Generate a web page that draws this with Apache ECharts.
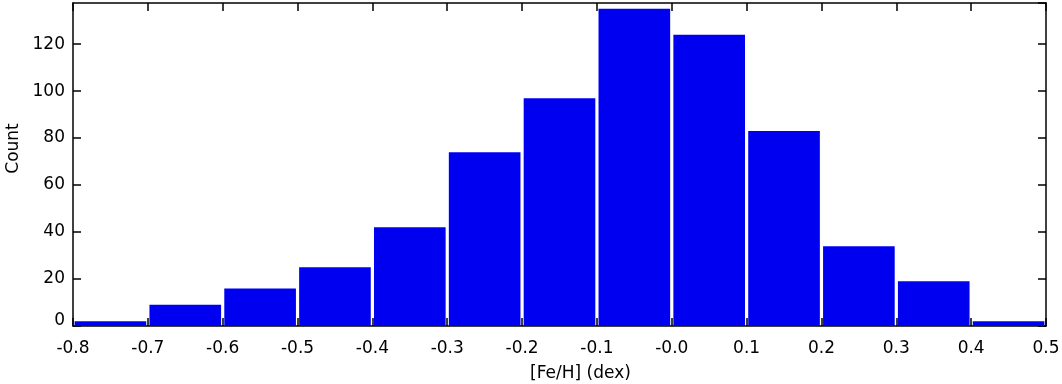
<!DOCTYPE html>
<html>
<head>
<meta charset="utf-8">
<script src="https://cdn.jsdelivr.net/npm/echarts@6/dist/echarts.min.js"></script>
<style>
  html, body { margin: 0; padding: 0; background: #fff; }
  #chart { width: 1062px; height: 384px; }
</style>
</head>
<body>
<div id="chart"></div>
<script>
// histogram bins of [Fe/H]
var binLo = [-0.8, -0.7, -0.6, -0.5, -0.4, -0.3, -0.2, -0.1, 0.0, 0.1, 0.2, 0.3, 0.4]
var binHi = [-0.7, -0.6, -0.5, -0.4, -0.3, -0.2, -0.1, 0.0, 0.1, 0.2, 0.3, 0.4, 0.5]
var counts = [2, 9, 16, 25, 42, 74, 97, 135, 124, 83, 34, 19, 2]

var font = 'DejaVu Sans, Verdana, sans-serif'
var blue = '#0000f0'

var data = []
for (var i = 0; i < counts.length; i++) {
  data.push([binLo[i], binHi[i], counts[i]])
}

function fmtX(v) {
  var s = v.toFixed(1)
  if (Math.abs(v) < 1e-9) s = '-0.0'
  return s
}

var chart = echarts.init(document.getElementById('chart'), null, { renderer: 'canvas' })

var axisLine = { show: true, onZero: false, lineStyle: { color: '#000', width: 1.5 } }
var tick = { show: true, inside: true, length: 8, lineStyle: { color: '#000', width: 1.5 } }

var option = {
  backgroundColor: '#fff',
  animation: false,
  grid: { left: 73, right: 16, top: 3, bottom: 58, outerBoundsMode: 'none', containLabel: false },
  xAxis: [{
    type: 'value',
    min: -0.8,
    max: 0.5,
    interval: 0.1,
    position: 'bottom',
    axisLine: axisLine,
    axisTick: tick,
    splitLine: { show: false },
    axisLabel: {
      color: '#000', fontFamily: font, fontSize: 17, margin: 14,
      formatter: fmtX
    },
    name: '[Fe/H] (dex)',
    nameLocation: 'middle',
    nameGap: 39,
    nameTextStyle: { color: '#000', fontFamily: font, fontSize: 17, padding: [0, 0, 0, 42] }
  }, {
    type: 'value',
    min: -0.8,
    max: 0.5,
    interval: 0.1,
    position: 'top',
    axisLine: axisLine,
    axisTick: tick,
    splitLine: { show: false },
    axisLabel: { show: false }
  }],
  yAxis: [{
    type: 'value',
    min: 0,
    max: 137.5,
    interval: 20,
    position: 'left',
    axisLine: axisLine,
    axisTick: tick,
    splitLine: { show: false },
    axisLabel: {
      color: '#000', fontFamily: font, fontSize: 17, margin: 8,
      showMaxLabel: false,
      formatter: function (v) { return v === 0 ? '{z|0}' : String(v) },
      rich: { z: { fontFamily: font, fontSize: 17, color: '#000', padding: [0, 0, 10, 0] } }
    },
    name: 'Count',
    nameLocation: 'middle',
    nameGap: 50,
    nameTextStyle: { color: '#000', fontFamily: font, fontSize: 17, padding: [0, 0, 0, 32] }
  }, {
    type: 'value',
    min: 0,
    max: 137.5,
    interval: 20,
    position: 'right',
    axisLine: axisLine,
    axisTick: tick,
    splitLine: { show: false },
    axisLabel: { show: false }
  }],
  series: [{
    type: 'custom',
    xAxisIndex: 0,
    yAxisIndex: 0,
    z: 1,
    renderItem: function (params, api) {
      var p0 = api.coord([api.value(0), api.value(2)])
      var p1 = api.coord([api.value(1), 0])
      var gap = 1.6
      return {
        type: 'rect',
        shape: { x: p0[0] + gap, y: p0[1], width: p1[0] - p0[0] - 2 * gap, height: p1[1] - p0[1] },
        style: { fill: blue }
      }
    },
    encode: { x: [0, 1], y: 2 },
    data: data
  }]
}

chart.setOption(option)
</script>
</body>
</html>
